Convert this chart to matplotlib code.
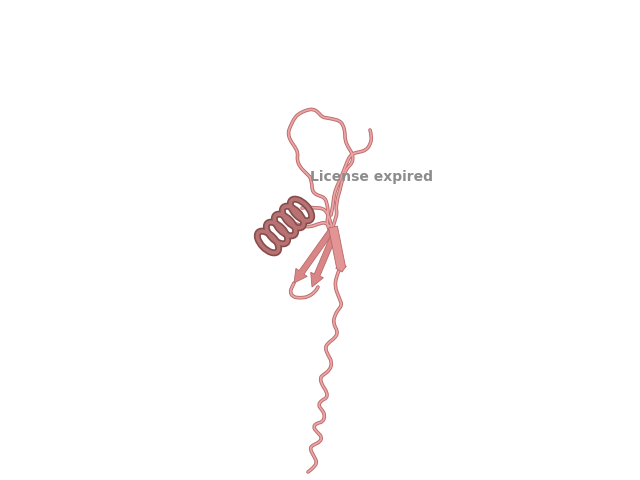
import numpy as np
import matplotlib
matplotlib.use("Agg")
import matplotlib.pyplot as plt
from matplotlib.patches import Ellipse, FancyArrow, PathPatch
from matplotlib.path import Path

# Trazas del modelo (coordenadas en pixeles de la imagen)
lazo_x = [310, 305, 300, 297, 298, 295, 290, 288, 290, 295, 300, 307, 313, 318, 322, 327, 333, 340,
          343, 345, 345, 348, 352, 353, 352, 348, 345, 343, 341, 340, 338, 337, 336, 337, 335, 333, 330]
lazo_y = [177, 172, 167, 160, 153, 147, 140, 133, 127, 117, 113, 110, 109, 112, 117, 118, 119, 121,
          125, 132, 140, 147, 153, 158, 163, 167, 172, 178, 185, 190, 196, 202, 208, 214, 220, 227, 234]

hebra_x = [310, 312, 312, 315, 320, 325, 327, 328, 328, 327, 328, 331]
hebra_y = [177, 183, 190, 194, 196, 198, 204, 210, 217, 221, 227, 233]

cola_der_x = [370, 372, 370, 366, 360, 354, 350, 347, 344, 340, 337, 334, 333, 331]
cola_der_y = [130, 137, 145, 150, 152, 153, 156, 162, 170, 180, 186, 195, 205, 215]

conector_x = [302, 308, 315, 322, 327, 330, 332]
conector_y = [208, 207, 208, 208, 212, 220, 228]

conector2_x = [290, 296, 303, 310, 318, 326, 332]
conector2_y = [222, 224, 226, 227, 224, 222, 230]

bucle_x = [294, 292, 290, 293, 300, 308, 315, 318]
bucle_y = [283, 287, 292, 297, 298, 297, 292, 287]

cola_x = [340, 336, 335, 338, 340, 342, 338, 335, 333, 338, 335, 328, 325, 328, 332, 330, 323, 320,
          322, 327, 327, 322, 318, 322, 325, 323, 317, 313, 317, 322, 320, 313, 310, 312, 315, 317,
          313, 308]
cola_y = [268, 277, 287, 295, 300, 305, 310, 315, 323, 332, 338, 343, 348, 355, 362, 370, 375, 378,
          385, 392, 398, 400, 405, 410, 415, 422, 423, 427, 432, 437, 442, 445, 448, 453, 458, 463,
          468, 472]

# Helice: centros de cada vuelta
helice_x = [268, 277, 285, 293, 301]
helice_y = [242, 233, 225, 217, 210]

# Hebras beta: inicio y punta
hoja_x0 = [331, 334, 333]
hoja_y0 = [231, 235, 227]
hoja_x1 = [294, 312, 342]
hoja_y1 = [283, 287, 272]

fig = plt.figure(figsize=(6.4, 4.8), dpi=100)
ax = fig.add_axes([0, 0, 1, 1])
ax.set_xlim(0, 640)
ax.set_ylim(480, 0)
ax.axis("off")


def camino_suave(x, y):
    # curva cuadratica que pasa por los puntos medios (solo para dibujar)
    p = np.column_stack([x, y]).astype(float)
    verts = [p[0]]
    codes = [Path.MOVETO]
    for i in range(1, len(p) - 1):
        verts += [p[i], (p[i] + p[i + 1]) / 2]
        codes += [Path.CURVE3, Path.CURVE3]
    verts.append(p[-1])
    codes.append(Path.LINETO)
    return Path(verts, codes)


def tubo(x, y, z=2):
    camino = camino_suave(x, y)
    ax.add_patch(PathPatch(camino, fill=False, edgecolor="#b86c6c", lw=2.6,
                           capstyle="round", joinstyle="round", zorder=z))
    ax.add_patch(PathPatch(camino, fill=False, edgecolor="#eea4a4", lw=1.3,
                           capstyle="round", joinstyle="round", zorder=z + 0.1))


for xs, ys in [(lazo_x, lazo_y), (hebra_x, hebra_y), (cola_der_x, cola_der_y),
               (conector_x, conector_y), (conector2_x, conector2_y), (bucle_x, bucle_y), (cola_x, cola_y)]:
    tubo(xs, ys)

# hebras beta
anchos = [6, 6, 9]
for x0, y0, x1, y1, w in zip(hoja_x0, hoja_y0, hoja_x1, hoja_y1, anchos):
    dx, dy = x1 - x0, y1 - y0
    plano = w >= 9
    flecha = FancyArrow(x0, y0, dx, dy, width=w, head_width=w * 1.2 if plano else w * 2.3,
                        head_length=5 if plano else 13, length_includes_head=True,
                        facecolor="#e39494" if plano else "#da8686", edgecolor="#b56a6a",
                        lw=0.6, zorder=3)
    ax.add_patch(flecha)

# helice
ang = np.degrees(np.arctan2(helice_y[-1] - helice_y[0], helice_x[-1] - helice_x[0]))
for hx, hy in zip(helice_x, helice_y):
    ax.add_patch(Ellipse((hx, hy), 14, 27, angle=ang, fill=False, edgecolor="#864d4d", lw=5.0, zorder=4))
    ax.add_patch(Ellipse((hx, hy), 14, 27, angle=ang, fill=False, edgecolor="#b87272", lw=2.6, zorder=4.1))

ax.text(371, 177, "License expired", color="#8c8c8c", fontsize=10, fontweight="bold",
        ha="center", va="center", family="DejaVu Sans", zorder=10)

fig.savefig("out.png", dpi=100)
